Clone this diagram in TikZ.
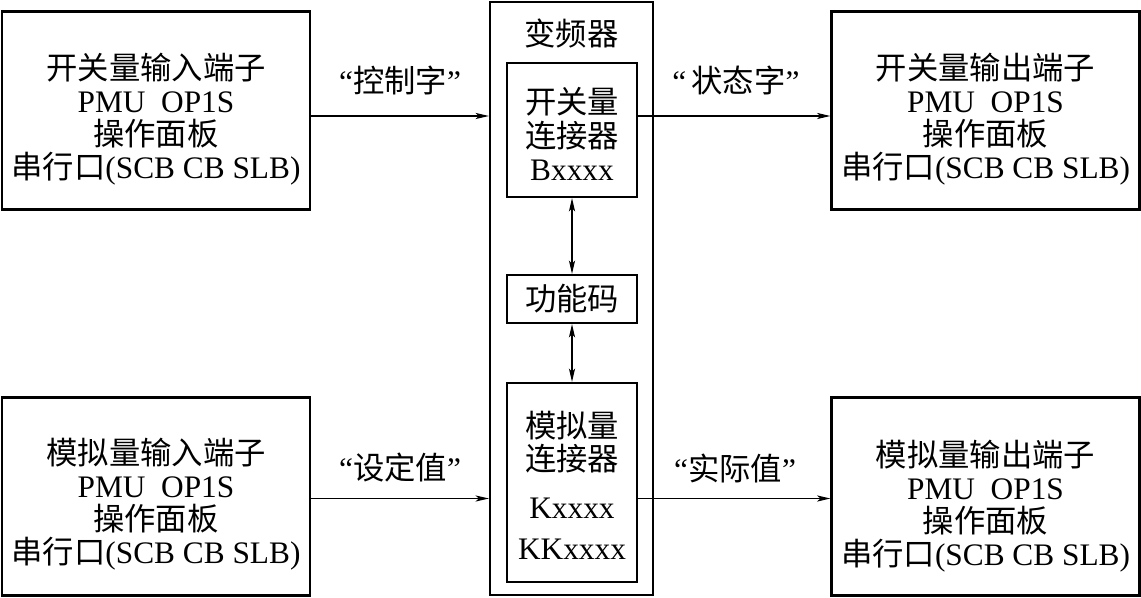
\documentclass[tikz,border=0pt]{standalone}
\usepackage{fontspec}
\setmainfont{Liberation Serif}
\newfontfamily\cjk{Noto Sans CJK SC}
\usetikzlibrary{arrows.meta}
\begin{document}
\begin{tikzpicture}[x=0.75pt,y=-0.75pt,
  box/.style={draw,line width=1.7pt,inner sep=0pt},
  sidebox/.style={box,minimum width=231pt,minimum height=148.5pt},
  innerbox/.style={box,minimum width=97.5pt},
  txt/.style={align=center,inner sep=0pt,font=\fontsize{23.5}{24.8}\selectfont},
  lbl/.style={inner sep=0pt,font=\fontsize{23.5}{24.8}\selectfont},
  tip/.style={},
  arr/.style={line width=0.85pt,-{Stealth[length=10pt,width=4.6pt,inset=2.5pt]}},
  darr/.style={line width=0.85pt,{Stealth[length=10pt,width=4.6pt,inset=2.5pt]}-{Stealth[length=10pt,width=4.6pt,inset=2.5pt]}}]
\useasboundingbox (0,0) rectangle (1141,598);
% side boxes
\node[sidebox] (lt) at (156,110.5) {};
\node[sidebox] (lb) at (156,496.5) {};
\node[sidebox] (rt) at (985.5,110.5) {};
\node[sidebox] (rb) at (985.5,496.5) {};
\node[txt] (ltt) at (156,119) {{\cjk 开关量输入端子}\\PMU\ \ OP1S\\{\cjk 操作面板}\\{\cjk 串行口}(SCB CB SLB)};
\node[txt] (lbt) at (156,504) {{\cjk 模拟量输入端子}\\PMU\ \ OP1S\\{\cjk 操作面板}\\{\cjk 串行口}(SCB CB SLB)};
\node[txt] (rtt) at (985.5,119) {{\cjk 开关量输出端子}\\PMU\ \ OP1S\\{\cjk 操作面板}\\{\cjk 串行口}(SCB CB SLB)};
\node[txt] (rbt) at (985.5,506) {{\cjk 模拟量输出端子}\\PMU\ \ OP1S\\{\cjk 操作面板}\\{\cjk 串行口}(SCB CB SLB)};
% centre
\node[box,minimum width=122.25pt,minimum height=444.75pt] (vf) at (571.5,298.5) {};
\node[txt] (vft) at (571.5,34) {\cjk 变频器};
\node[innerbox,minimum height=100.5pt] (it) at (572,130) {};
\node[txt] (itt) at (572,134) {{\cjk 开关量}\\{\cjk 连接器}\\Bxxxx};
\node[innerbox,minimum height=36pt,txt] (fn) at (572,299) {\cjk 功能码};
\node[innerbox,minimum height=149.25pt] (ib) at (572,482.5) {};
\node[txt] (ibt) at (572,485) {{\cjk 模拟量}\\{\cjk 连接器}\\[11pt]Kxxxx\\[6pt]KKxxxx};
% arrows
\coordinate (ya) at (0,116);
\coordinate (yb) at (0,498.5);
\draw[arr] (lt.east |- ya) -- (vf.west |- ya);
\draw[arr] (it.east |- ya) -- (rt.west |- ya);
\draw[arr] (lb.east |- yb) -- (vf.west |- yb);
\draw[arr] (ib.east |- yb) -- (rb.west |- yb);
\draw[darr] (it.south) -- (fn.north);
\draw[darr] (fn.south) -- (ib.north);
% labels
\node[lbl] (l1) at (400,80) {“{\cjk 控制字}”};
\node[lbl] (l2) at (736,80) {“\,{\cjk 状态字}”};
\node[lbl] (l3) at (400,468) {“{\cjk 设定值}”};
\node[lbl] (l4) at (735,468) {“{\cjk 实际值}”};
\end{tikzpicture}
\end{document}
